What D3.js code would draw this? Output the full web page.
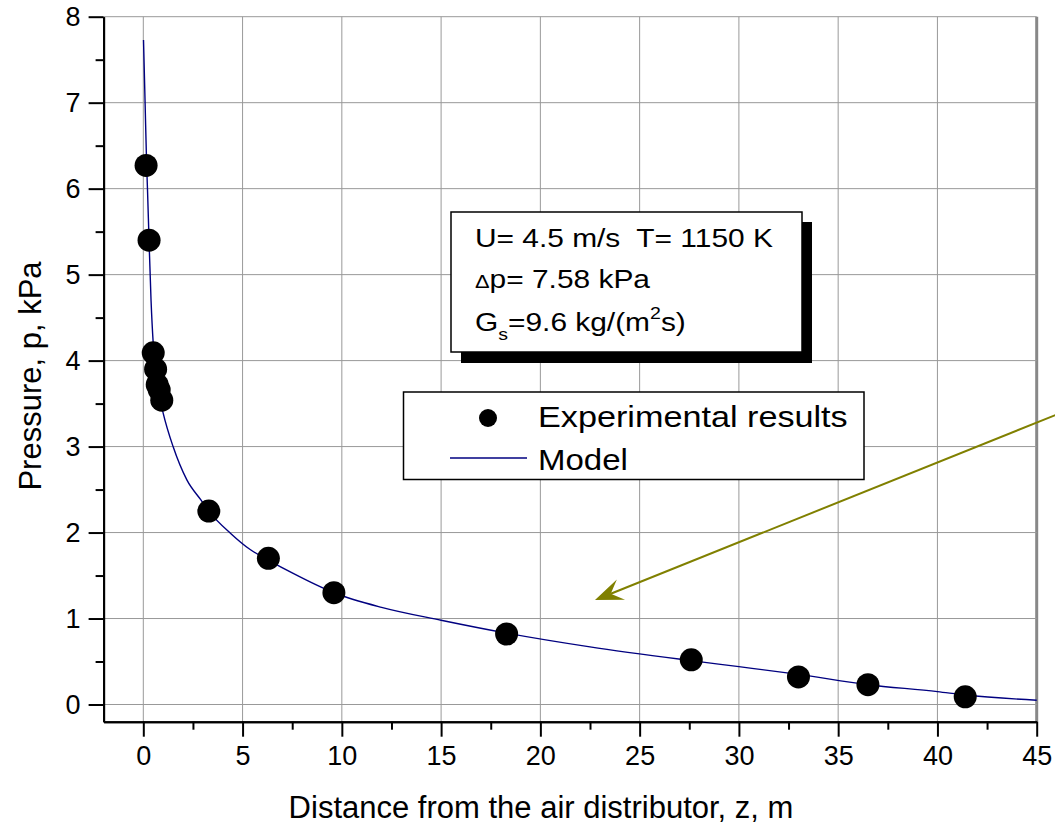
<!DOCTYPE html>
<html>
<head>
<meta charset="utf-8">
<script src="https://cdn.jsdelivr.net/npm/d3@7"></script>
<style>
  body { margin: 0; background: #fff; }
  text { font-family: "Liberation Sans", Arial, sans-serif; fill: #000; }
</style>
</head>
<body>
<script>
const width = 1055,
  height = 831;

// Experimental points (z in m, p in kPa)
const expZ = [0.14, 0.29, 0.5, 0.62, 0.7, 0.8, 0.93, 3.3, 6.3, 9.6, 18.3, 27.6, 33.0, 36.5, 41.4];
const expP = [6.27, 5.4, 4.09, 3.9, 3.72, 3.66, 3.54, 2.25, 1.7, 1.3, 0.82, 0.52, 0.32, 0.23, 0.09];

// Model curve
const modelZ = [0.01, 0.09, 0.17, 0.21, 0.29, 0.39, 0.5, 0.65, 0.8, 1.0, 1.5, 2.2, 2.9, 3.3, 4.4, 5.4, 6.3, 7.5, 9.6, 12, 15, 18.3, 22.5, 27.6, 30, 33, 36.5, 40, 41.4, 45];
const modelP = [7.73, 7.0, 6.26, 6.0, 5.39, 4.7, 4.2, 3.85, 3.6, 3.39, 3.0, 2.61, 2.38, 2.25, 1.99, 1.8, 1.68, 1.53, 1.3, 1.13, 0.98, 0.83, 0.67, 0.51, 0.44, 0.35, 0.23, 0.15, 0.11, 0.05];

// ticks
const xTicks = [0, 5, 10, 15, 20, 25, 30, 35, 40, 45];
const xMinor = [2.5, 7.5, 12.5, 17.5, 22.5, 27.5, 32.5, 37.5, 42.5];
const yTicks = [0, 1, 2, 3, 4, 5, 6, 7, 8];
const yMinor = [0.5, 1.5, 2.5, 3.5, 4.5, 5.5, 6.5, 7.5];

// annotation arrow (data units): start -> tip
const arrowFrom = [46.2, 3.39];
const arrowTo = [22.75, 1.215];

const xScale = d3.scaleLinear().domain([-2, 45]).range([103.6, 1036.7]);
const yScale = d3.scaleLinear().domain([-0.2, 8]).range([721.7, 16.7]);

const svg = d3
  .select("body")
  .append("svg")
  .attr("width", width)
  .attr("height", height);

// grid
svg
  .append("g")
  .selectAll("line")
  .data(xTicks)
  .enter()
  .append("line")
  .attr("x1", d => xScale(d))
  .attr("x2", d => xScale(d))
  .attr("y1", yScale(8))
  .attr("y2", yScale(-0.2))
  .attr("stroke", d => (d === 45 ? "#888" : "#999"))
  .attr("stroke-width", d => (d === 45 ? 3 : 1));

svg
  .append("g")
  .selectAll("line")
  .data(yTicks)
  .enter()
  .append("line")
  .attr("x1", xScale(-2))
  .attr("x2", xScale(45))
  .attr("y1", d => yScale(d))
  .attr("y2", d => yScale(d))
  .attr("stroke", "#999")
  .attr("stroke-width", 1);

// axes
const xAxis = d3.axisBottom(xScale).tickValues(xTicks).tickSize(15).tickSizeOuter(0).tickPadding(9);
const xAxisMinor = d3.axisBottom(xScale).tickValues(xMinor).tickSize(8).tickSizeOuter(0).tickFormat("");
const yAxis = d3.axisLeft(yScale).tickValues(yTicks).tickSize(15).tickSizeOuter(0).tickPadding(8);
const yAxisMinor = d3.axisLeft(yScale).tickValues(yMinor).tickSize(8).tickSizeOuter(0).tickFormat("");

function styleAxis(g) {
  g.selectAll("path, line").attr("stroke", "#000").attr("stroke-width", 2);
  g.selectAll("text").style("font-size", "27px").attr("fill", "#000");
}

svg.append("g").attr("transform", `translate(0,${yScale(-0.2)})`).call(xAxisMinor).call(styleAxis);
svg.append("g").attr("transform", `translate(0,${yScale(-0.2)})`).call(xAxis).call(styleAxis);
svg.append("g").attr("transform", `translate(${xScale(-2)},0)`).call(yAxisMinor).call(styleAxis);
svg.append("g").attr("transform", `translate(${xScale(-2)},0)`).call(yAxis).call(styleAxis);

// axis titles
svg
  .append("text")
  .attr("x", 541)
  .attr("y", 818)
  .attr("text-anchor", "middle")
  .style("font-size", "31px")
  .text("Distance from the air distributor, z, m");

svg
  .append("text")
  .attr("transform", "translate(41,376) rotate(-90)")
  .attr("text-anchor", "middle")
  .style("font-size", "31px")
  .text("Pressure, p, kPa");

// model line
const modelData = modelZ.map((z, i) => [z, modelP[i]]);
const line = d3
  .line()
  .x(d => xScale(d[0]))
  .y(d => yScale(d[1]))
  .curve(d3.curveMonotoneX);

svg
  .append("path")
  .datum(modelData)
  .attr("d", line)
  .attr("fill", "none")
  .attr("stroke", "#000080")
  .attr("stroke-width", 1.4);

// experimental points
svg
  .append("g")
  .selectAll("circle")
  .data(expZ.map((z, i) => [z, expP[i]]))
  .enter()
  .append("circle")
  .attr("cx", d => xScale(d[0]))
  .attr("cy", d => yScale(d[1]))
  .attr("r", 11.5)
  .attr("fill", "#000");

// conditions box with shadow
const box = svg.append("g");
box.append("rect").attr("x", 461).attr("y", 222).attr("width", 351).attr("height", 141).attr("fill", "#000");
box
  .append("rect")
  .attr("x", 451)
  .attr("y", 212)
  .attr("width", 351)
  .attr("height", 140)
  .attr("fill", "#fff")
  .attr("stroke", "#000")
  .attr("stroke-width", 1.5);

box
  .append("text")
  .attr("transform", "translate(475,247) scale(1.15,1)")
  .style("font-size", "26px")
  .text("U= 4.5 m/s\u00a0 T= 1150 K");

const l2 = box
  .append("text")
  .attr("transform", "translate(475,288) scale(1.15,1)")
  .style("font-size", "26px");
l2.append("tspan").style("font-size", "19px").text("\u0394");
l2.append("tspan").text("p= 7.58 kPa");

const l3 = box
  .append("text")
  .attr("transform", "translate(475,331) scale(1.15,1)")
  .style("font-size", "26px");
l3.append("tspan").text("G");
l3.append("tspan").attr("dy", 9).style("font-size", "17px").text("s");
l3.append("tspan").attr("dy", -9).text("=9.6 kg/(m");
l3.append("tspan").attr("dy", -12).style("font-size", "17px").text("2");
l3.append("tspan").attr("dy", 12).text("s)");

// legend
const legend = svg.append("g");
legend
  .append("rect")
  .attr("x", 403.5)
  .attr("y", 392)
  .attr("width", 460.5)
  .attr("height", 87.5)
  .attr("fill", "#fff")
  .attr("stroke", "#000")
  .attr("stroke-width", 1.5);
legend.append("circle").attr("cx", 488).attr("cy", 418).attr("r", 9).attr("fill", "#000");
legend
  .append("text")
  .attr("transform", "translate(538,427) scale(1.14,1)")
  .style("font-size", "30px")
  .text("Experimental results");
legend
  .append("line")
  .attr("x1", 450)
  .attr("x2", 527)
  .attr("y1", 458)
  .attr("y2", 458)
  .attr("stroke", "#000080")
  .attr("stroke-width", 1.4);
legend
  .append("text")
  .attr("transform", "translate(538,470) scale(1.1,1)")
  .style("font-size", "30px")
  .text("Model");

// arrow
const ax0 = xScale(arrowFrom[0]),
  ay0 = yScale(arrowFrom[1]),
  ax1 = xScale(arrowTo[0]),
  ay1 = yScale(arrowTo[1]);
const len = Math.hypot(ax1 - ax0, ay1 - ay0);
const ux = (ax1 - ax0) / len,
  uy = (ay1 - ay0) / len;
const headLen = 28,
  headW = 11,
  notch = 17;

svg
  .append("line")
  .attr("x1", ax0)
  .attr("y1", ay0)
  .attr("x2", ax1 - ux * notch)
  .attr("y2", ay1 - uy * notch)
  .attr("stroke", "#808000")
  .attr("stroke-width", 2);

const bx = ax1 - ux * headLen,
  by = ay1 - uy * headLen;
svg
  .append("polygon")
  .attr(
    "points",
    [
      [ax1, ay1],
      [bx - uy * headW, by + ux * headW],
      [ax1 - ux * notch, ay1 - uy * notch],
      [bx + uy * headW, by - ux * headW]
    ]
      .map(p => p.join(","))
      .join(" ")
  )
  .attr("fill", "#808000");
</script>
</body>
</html>
